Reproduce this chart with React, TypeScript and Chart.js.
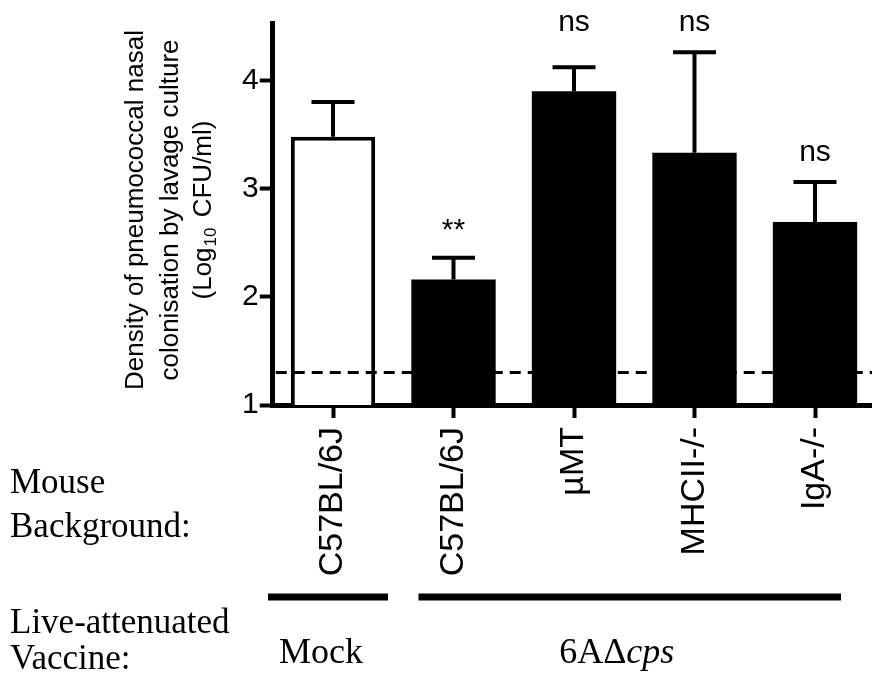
import React, { useEffect, useRef } from 'react';
import { Chart, registerables } from 'chart.js';

Chart.register(...registerables);

// ---- data ----
const CATEGORIES = ['C57BL/6J', 'C57BL/6J', 'µMT', 'MHCII-/-', 'IgA-/-'];
const MEANS = [3.48, 2.16, 3.9, 3.33, 2.69];
const ERRORS = [0.32, 0.2, 0.22, 0.93, 0.37];
const FILLS = ['#ffffff', '#000000', '#000000', '#000000', '#000000'];
const SIGNIFICANCE = ['', '**', 'ns', 'ns', 'ns'];
const SIG_LEVEL = [0, 2.69, 4.53, 4.53, 3.33];
const Y_TICKS = [1, 2, 3, 4];
const Y_MIN = 1;
const Y_MAX = 4.53;
const DETECTION_LIMIT = 1.3;
const Y_TITLE_LINES = ['Density of pneumococcal nasal', 'colonisation by lavage culture'];
const Y_TITLE_UNIT = ['(Log', '10', ' CFU/ml)'];
const ROW_LABELS = [['Mouse', 'Background:'], ['Live-attenuated', 'Vaccine:']];
const GROUP_NAMES = ['Mock', '6AΔ'];
const GROUP_ITALIC = ['', 'cps'];
const GROUP_FIRST = [0, 1];
const GROUP_LAST = [0, 4];

const SANS = '"Liberation Sans", Arial, Helvetica, sans-serif';
const SERIF = '"Liberation Serif", "Times New Roman", serif';

const annotate = {
  id: 'annotate',
  afterDatasetsDraw(chart: any) {
    const { ctx, chartArea } = chart;
    const y = chart.scales.y;
    const meta = chart.getDatasetMeta(0);
    ctx.save();
    // detection limit dashed line
    const ly = y.getPixelForValue(DETECTION_LIMIT);
    ctx.strokeStyle = '#000';
    ctx.lineWidth = 3;
    ctx.setLineDash([11, 7]);
    ctx.beginPath();
    ctx.moveTo(chartArea.left + 3, ly);
    ctx.lineTo(chart.width, ly);
    ctx.stroke();
    ctx.setLineDash([]);
    // error bars
    ctx.lineWidth = 4;
    ctx.lineCap = 'butt';
    MEANS.forEach((m, i) => {
      const bx = meta.data[i].x;
      const base = y.getPixelForValue(m);
      const top = y.getPixelForValue(m + ERRORS[i]);
      ctx.beginPath();
      ctx.moveTo(bx, base);
      ctx.lineTo(bx, top);
      ctx.moveTo(bx - 21.5, top);
      ctx.lineTo(bx + 21.5, top);
      ctx.stroke();
    });
    // significance labels
    ctx.fillStyle = '#000';
    ctx.textAlign = 'center';
    ctx.textBaseline = 'alphabetic';
    SIGNIFICANCE.forEach((s, i) => {
      if (!s) return;
      const size = 30;
      ctx.font = `${size}px ${SANS}`;
      const cy = y.getPixelForValue(SIG_LEVEL[i]);
      const off = s === '**' ? 0.56 * size : 0.26 * size;
      ctx.fillText(s, meta.data[i].x, cy + off);
    });
    ctx.restore();
  },
  afterDraw(chart: any) {
    const { ctx } = chart;
    const x = chart.scales.x;
    const y = chart.scales.y;
    ctx.save();
    ctx.fillStyle = '#000';
    // y axis title (rotated, three lines)
    const cy = (y.top + y.bottom) / 2 - 4;
    const tsize = 26;
    const baselines = [143, 178];
    ctx.textBaseline = 'alphabetic';
    Y_TITLE_LINES.forEach((line, i) => {
      ctx.save();
      ctx.translate(baselines[i], cy);
      ctx.rotate(-Math.PI / 2);
      ctx.font = `${tsize}px ${SANS}`;
      ctx.textAlign = 'center';
      ctx.fillText(line, 0, 0);
      ctx.restore();
    });
    {
      ctx.save();
      ctx.translate(211, cy);
      ctx.rotate(-Math.PI / 2);
      ctx.textAlign = 'left';
      const big = `${tsize}px ${SANS}`;
      const small = `17px ${SANS}`;
      ctx.font = big;
      const w0 = ctx.measureText(Y_TITLE_UNIT[0]).width;
      const w2 = ctx.measureText(Y_TITLE_UNIT[2]).width;
      ctx.font = small;
      const w1 = ctx.measureText(Y_TITLE_UNIT[1]).width + 4;
      const total = w0 + w1 + w2;
      let px = -total / 2;
      ctx.font = big;
      ctx.fillText(Y_TITLE_UNIT[0], px, 0);
      px += w0 + 1;
      ctx.font = small;
      ctx.fillText(Y_TITLE_UNIT[1], px, 5);
      px += w1 - 1;
      ctx.font = big;
      ctx.fillText(Y_TITLE_UNIT[2], px, 0);
      ctx.restore();
    }
    // row labels (serif)
    ctx.textAlign = 'left';
    ctx.font = `35px ${SERIF}`;
    ctx.fillText(ROW_LABELS[0][0], 10, 493);
    ctx.fillText(ROW_LABELS[0][1], 10, 537);
    ctx.fillText(ROW_LABELS[1][0], 10, 633);
    ctx.fillText(ROW_LABELS[1][1], 10, 669);
    // group bars and names
    const startOff = [-65, -35];
    const endOff = [55, 26];
    const nameCenterOff = [-7, -13];
    GROUP_NAMES.forEach((name, g) => {
      const x0 = x.getPixelForValue(GROUP_FIRST[g]) + startOff[g];
      const x1 = x.getPixelForValue(GROUP_LAST[g]) + endOff[g];
      ctx.fillRect(x0, 593.5, x1 - x0, 7);
      const mid = (x0 + x1) / 2 + nameCenterOff[g];
      ctx.font = `36px ${SERIF}`;
      const wn = ctx.measureText(name).width;
      ctx.font = `italic 36px ${SERIF}`;
      const wi = ctx.measureText(GROUP_ITALIC[g]).width;
      let px = mid - (wn + wi) / 2;
      ctx.font = `36px ${SERIF}`;
      ctx.fillText(name, px, 663);
      px += wn;
      ctx.font = `italic 36px ${SERIF}`;
      if (GROUP_ITALIC[g]) ctx.fillText(GROUP_ITALIC[g], px, 663);
    });
    ctx.restore();
  },
};

const App = () => {
  const ref = useRef<HTMLCanvasElement>(null);
  useEffect(() => {
    const canvas = ref.current;
    if (!canvas) return;
    const chart = new Chart(canvas, {
      type: 'bar',
      data: {
        labels: CATEGORIES,
        datasets: [
          {
            data: MEANS,
            backgroundColor: FILLS,
            borderColor: '#000',
            borderWidth: FILLS.map((f) => (f === '#ffffff' ? 4 : 0)),
            barPercentage: 0.7,
            categoryPercentage: 1,
          },
        ],
      },
      options: {
        responsive: false,
        animation: false,
        devicePixelRatio: 1,
        layout: { padding: { top: 23, right: 4.75, left: 0, bottom: 0 } },
        plugins: { legend: { display: false }, tooltip: { enabled: false }, title: { display: false } },
        scales: {
          x: {
            offset: true,
            grid: { offset: false, drawOnChartArea: false, drawTicks: true, tickLength: 13, tickWidth: 4, tickColor: '#000' },
            border: { display: true, color: '#000', width: 5 },
            ticks: {
              color: '#000',
              font: { family: SANS, size: 34 },
              maxRotation: 90,
              minRotation: 90,
              padding: 9,
              autoSkip: false,
            },
            afterFit: (s: any) => {
              s.height = 276;
            },
          },
          y: {
            min: Y_MIN,
            max: Y_MAX,
            afterBuildTicks: (s: any) => {
              s.ticks = Y_TICKS.map((v) => ({ value: v }));
            },
            grid: { drawOnChartArea: false, drawTicks: true, tickLength: 13, tickWidth: 4, tickColor: '#000' },
            border: { display: true, color: '#000', width: 5 },
            ticks: { color: '#000', font: { family: SANS, size: 30 }, padding: 1 },
            afterFit: (s: any) => {
              s.width = 272.75;
            },
          },
        },
      },
      plugins: [annotate],
    });
    return () => chart.destroy();
  }, []);
  return (
    <div
      style={{
        position: 'fixed',
        left: 0,
        top: 0,
        width: 872,
        height: 681,
        overflow: 'hidden',
        background: '#ffffff',
      }}
    >
      <canvas ref={ref} width={880} height={681} style={{ display: 'block', width: 880, height: 681 }} />
    </div>
  );
};

export default App;
